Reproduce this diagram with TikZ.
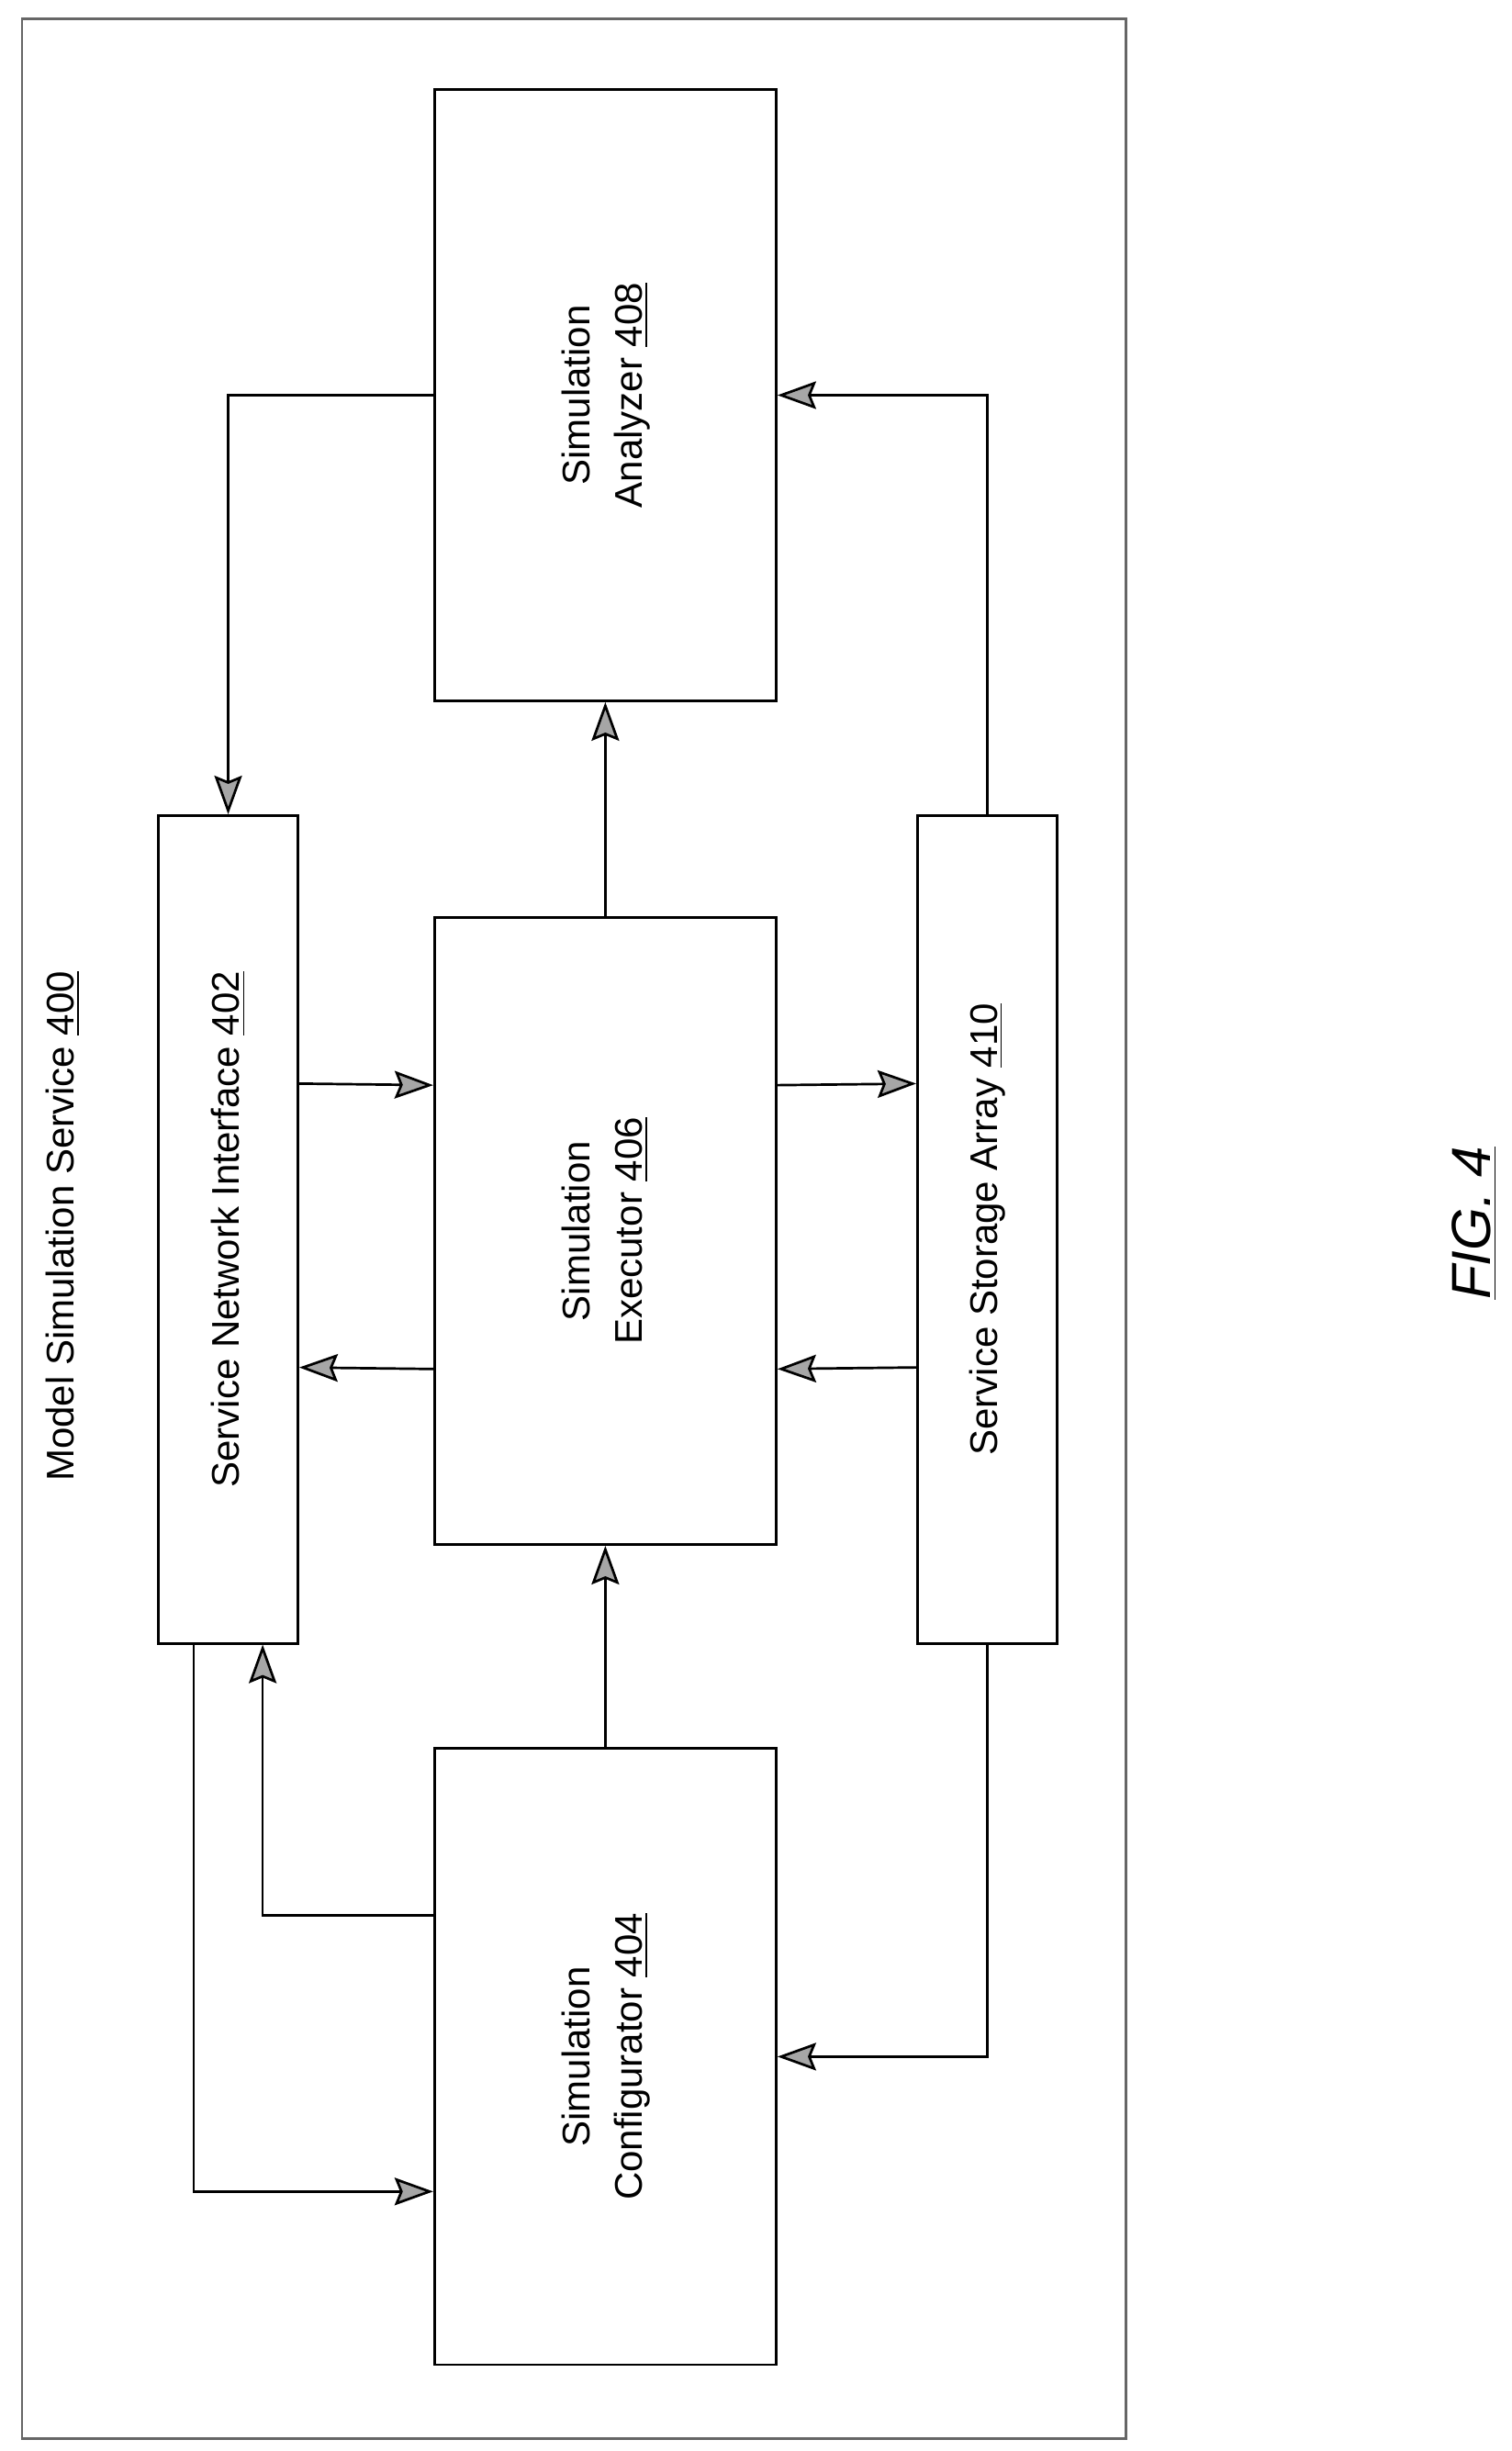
\documentclass[tikz,border=0pt]{standalone}
\usepackage{fontspec}
\setmainfont{Liberation Sans}
\usetikzlibrary{arrows.meta,calc}
\tikzset{
  box/.style={draw,line width=0.9pt,inner sep=0pt,align=center,font=\fontsize{14}{19}\selectfont},
  arr/.style={line width=0.9pt,-{Stealth[length=14pt,width=10pt,inset=2pt,fill=gray!70]}}
}
\begin{document}
\begin{tikzpicture}[x=0.02cm,y=-0.02cm]
  \useasboundingbox (0,0) rectangle (964,1563);
  \draw[gray!80!black,line width=0.9pt] (14,12) rectangle (718,1555);
  \node[rotate=90,font=\fontsize{14}{17}\selectfont] (title) at (40,782)
    {Model Simulation Service \underline{400}};

  \node[box,minimum width=1.78cm,minimum height=10.56cm] (sni) at (145.5,784)
    {\rotatebox{90}{Service Network Interface \underline{402}}};
  \node[box,minimum width=4.36cm,minimum height=7.8cm] (ana) at (386,252)
    {\rotatebox{90}{\begin{tabular}{c}Simulation\\Analyzer \underline{408}\end{tabular}}};
  \node[box,minimum width=4.36cm,minimum height=8cm] (exe) at (386,785)
    {\rotatebox{90}{\begin{tabular}{c}Simulation\\Executor \underline{406}\end{tabular}}};
  \node[box,minimum width=4.36cm,minimum height=7.86cm] (cfg) at (386,1311.5)
    {\rotatebox{90}{\begin{tabular}{c}Simulation\\Configurator \underline{404}\end{tabular}}};
  \node[box,minimum width=1.78cm,minimum height=10.56cm] (sto) at (629.5,784)
    {\rotatebox{90}{Service Storage Array \underline{410}}};

  \draw[arr] (ana.west) -| (sni.north);
  \draw[arr] (sto.north) |- (ana.east);
  \draw[arr] (exe.north) -- (ana.south);
  \draw[arr] ($(sni.east)+(0,-93)$) -- ($(exe.west)+(0,-93)$);
  \draw[arr] ($(exe.west)+(0,88)$) -- ($(sni.east)+(0,88)$);
  \draw[arr] ($(exe.east)+(0,-93)$) -- ($(sto.west)+(0,-93)$);
  \draw[arr] ($(sto.west)+(0,88)$) -- ($(exe.east)+(0,88)$);
  \draw[arr] (cfg.north) -- (exe.south);
  \draw[arr] ($(cfg.west)+(0,-90)$) -| ($(sni.south)+(22,0)$);
  \draw[arr] ($(sni.south)+(-22,0)$) |- ($(cfg.west)+(0,86)$);
  \draw[arr] (sto.south) |- (cfg.east);

  \node[rotate=90,font=\fontsize{20}{24}\selectfont] (fig) at (940,780)
    {\textit{\underline{FIG. 4}}};
\end{tikzpicture}
\end{document}
